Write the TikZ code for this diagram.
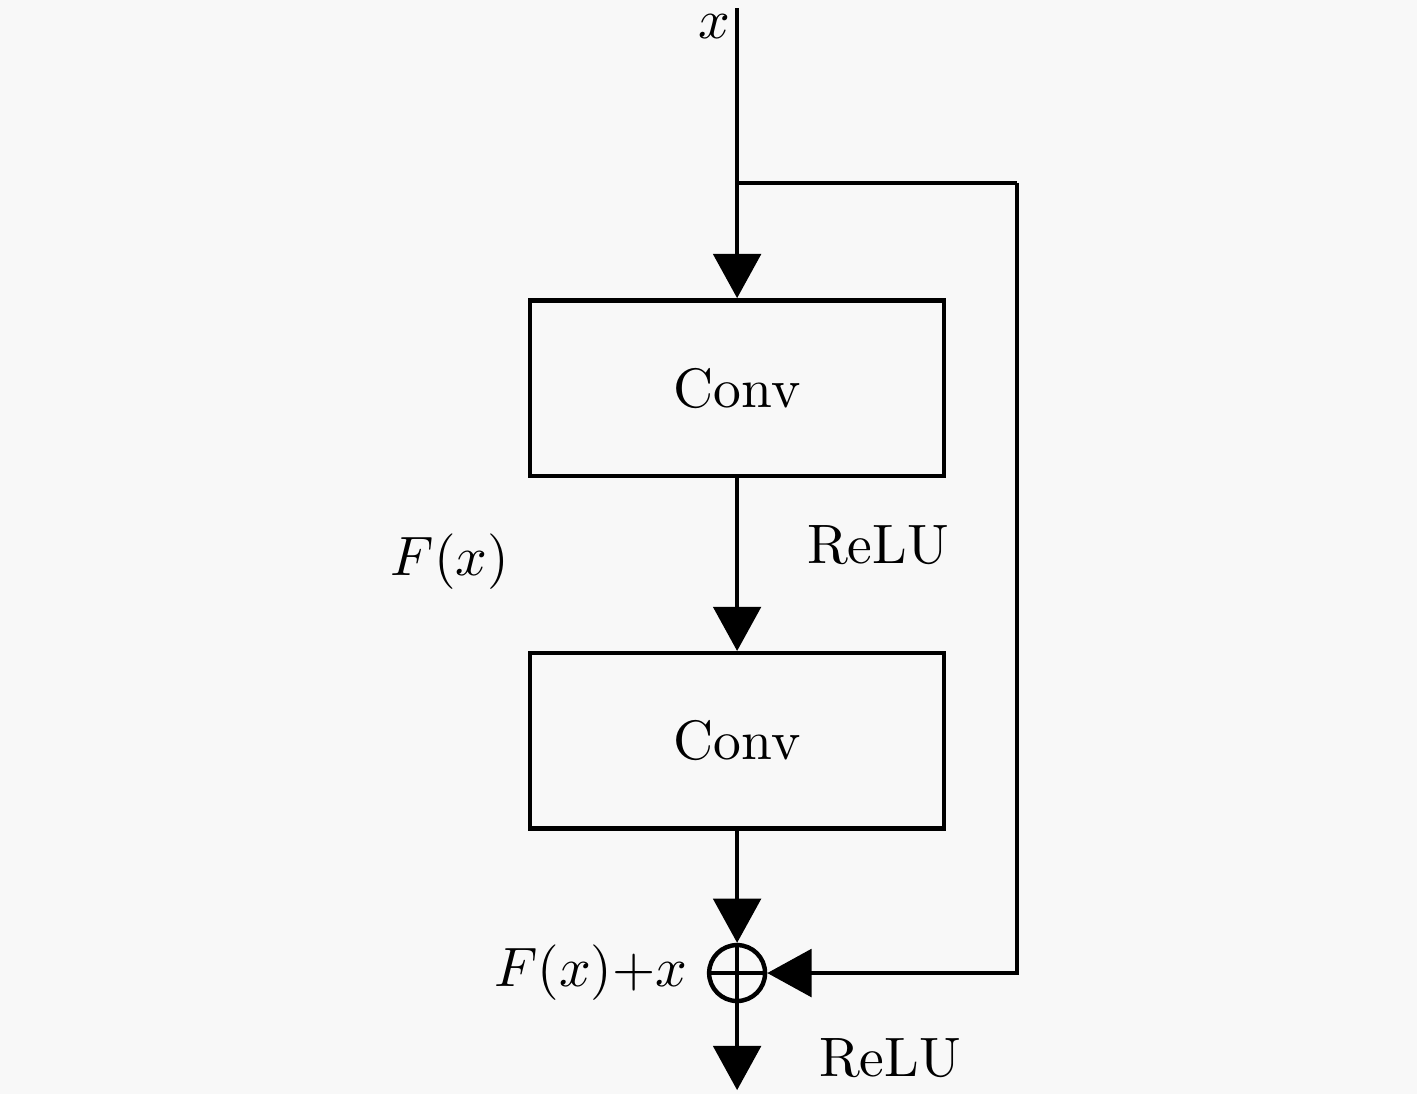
\documentclass[tikz,border=0pt]{standalone}
\usetikzlibrary{positioning, arrows.meta}
\definecolor{bgcolor}{RGB}{248,248,248}

\begin{document}
\begin{tikzpicture}[
    convbox/.style={draw, thick, minimum width=2.62cm, minimum height=1.11cm, inner sep=0pt},
    flow/.style={thick, -{Triangle[width=0.3cm,length=0.28cm]}},
    link/.style={thick}
]
    \fill[bgcolor] (0,0) rectangle (8.968,-6.924);
    \useasboundingbox (0,0) rectangle (8.968,-6.924);

    \coordinate (input) at (4.665,-0.051);
    \coordinate (split) at (4.665,-1.158);
    \coordinate (corner) at (6.437,-1.158);

    \node[convbox] (Conv1) at (4.665,-2.456) {Conv};
    \node[convbox, below=1.095cm of Conv1] (Conv2) {Conv};
    \node[
        draw,
        thick,
        circle,
        minimum size=0.354cm,
        inner sep=0pt,
        below=0.709cm of Conv2] (Sum) {};
    \coordinate[below=0.55cm of Sum] (output);

    \draw[link] (Sum.north) -- (Sum.south);
    \draw[link] (Sum.west) -- (Sum.east);

    \draw[flow] (input) -- (Conv1.north);
    \draw[flow] (Conv1.south) -- (Conv2.north);
    \draw[flow] (Conv2.south) -- (Sum.north);
    \draw[flow] (Sum.south) -- (output);
    \draw[link] (split) -- (corner);
    \draw[flow] (corner) |- (Sum.east);

    \node[anchor=north east, inner sep=1pt] (xlabel) at (input) {$x$};
    \node (relu1) at (5.557,-3.449) {ReLU};
    \node (fx) at (2.848,-3.557) {$F(x)$};
    \node[left=0cm of Sum] (sumlabel) {$F(x){+}x$};
    \node (relu2) at (5.633,-6.696) {ReLU};
\end{tikzpicture}
\end{document}
